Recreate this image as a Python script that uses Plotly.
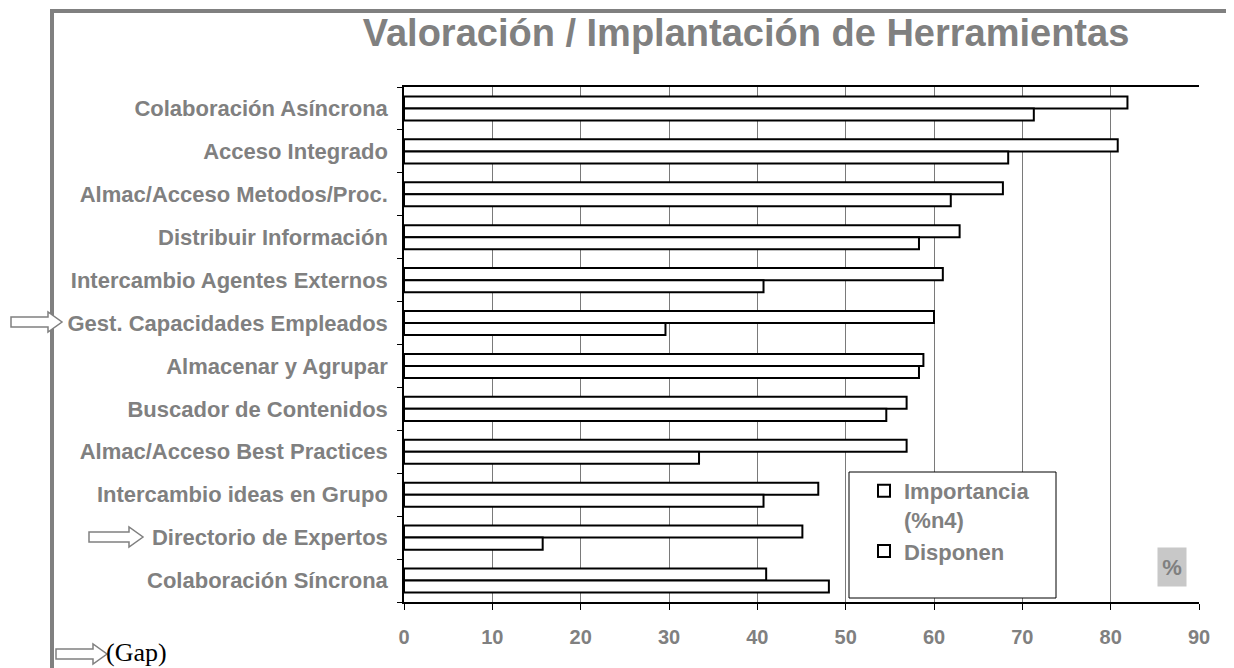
import plotly.graph_objects as go

categories = [
    "Colaboración Asíncrona",
    "Acceso Integrado",
    "Almac/Acceso Metodos/Proc.",
    "Distribuir Información",
    "Intercambio Agentes Externos",
    "Gest. Capacidades Empleados",
    "Almacenar y Agrupar",
    "Buscador de Contenidos",
    "Almac/Acceso Best Practices",
    "Intercambio ideas en Grupo",
    "Directorio de Expertos",
    "Colaboración Síncrona",
]
importancia = [81.9, 80.8, 67.8, 62.9, 61.0, 60.0, 58.8, 56.9, 56.9, 46.9, 45.1, 41.0]
disponen = [71.3, 68.4, 61.9, 58.3, 40.7, 29.6, 58.3, 54.6, 33.4, 40.7, 15.7, 48.1]
x_ticks = [0, 10, 20, 30, 40, 50, 60, 70, 80, 90]

# the page body adds an 8px margin; the figure is sized and laid out in screen pixels minus it
OFF = 8
SW, SH = 1234, 668
W, H = SW - OFF, SH - OFF
PL, PR, PT, PB = 404, 1199, 87, 602   # plot area in screen pixels
ML, MR, MT, MB = PL - OFF, SW - PR, PT - OFF, SH - PB
PW, PH = W - ML - MR, H - MT - MB

def px(x):
    return (x - PL) / PW

def py(y):
    return (PB - y) / PH

GRAY = "#808080"
FONT = "Liberation Sans, Arial, sans-serif"

fig = go.Figure()
fig.add_trace(go.Bar(
    y=categories, x=importancia, orientation="h", name="<b>Importancia<br>(%n4)</b>",
    marker=dict(color="white", line=dict(color="black", width=2)),
    legendgroup="a",
))
fig.add_trace(go.Bar(
    y=categories, x=disponen, orientation="h", name="<b>Disponen</b>",
    marker=dict(color="white", line=dict(color="black", width=2)),
    legendgroup="b",
))

shapes = []
# outer frame
shapes.append(dict(type="path", xref="paper", yref="paper",
                   path=f"M {px(52)} {py(700)} L {px(52)} {py(11)} L {px(1230)} {py(11)} L {px(1230)} {py(700)}",
                   line=dict(color=GRAY, width=4), layer="below"))
# legend box
shapes.append(dict(type="rect", xref="paper", yref="paper",
                   x0=px(849), x1=px(1056), y0=py(598), y1=py(472),
                   line=dict(color="black", width=1), fillcolor="white", layer="above"))

def arrow(x0, x1, yc, sh=5, hh=10, hl=14):
    xs = x1 - hl
    pts = [(x0, yc - sh), (xs, yc - sh), (xs, yc - hh), (x1, yc), (xs, yc + hh), (xs, yc + sh), (x0, yc + sh)]
    p = "M " + " L ".join(f"{px(a)} {py(b)}" for a, b in pts) + " Z"
    return dict(type="path", xref="paper", yref="paper", path=p,
                line=dict(color=GRAY, width=1.5), fillcolor="white", layer="above")

shapes.append(arrow(11, 62, 322))
shapes.append(arrow(89, 143, 537))
shapes.append(arrow(56, 107, 654))

annotations = [
    dict(text="<b>%</b>", xref="paper", yref="paper", x=px(1172), y=py(567), showarrow=False,
         font=dict(family=FONT, size=22, color=GRAY), bgcolor="#c8c8c8",
         width=26, height=36, xanchor="center", yanchor="middle"),
    dict(text="(Gap)", xref="paper", yref="paper", x=px(105), y=py(668), showarrow=False,
         font=dict(family="Liberation Serif, Times New Roman, serif", size=26, color="black"),
         xanchor="left", yanchor="bottom", borderpad=0),
]

fig.update_layout(
    width=W, height=H,
    margin=dict(l=ML, r=MR, t=MT, b=MB, pad=0),
    paper_bgcolor="white", plot_bgcolor="white",
    barmode="group", bargap=0.44, bargroupgap=0,
    title=dict(text="<b>Valoración / Implantación de Herramientas</b>",
               x=(746 - OFF) / W, xanchor="center", y=1 - (33 - OFF) / H, yanchor="middle",
               font=dict(family=FONT, size=38, color=GRAY)),
    xaxis=dict(range=[0, 90], tickvals=x_ticks, ticktext=[f"<b>{v}</b>" for v in x_ticks],
               showgrid=True, gridcolor="#7a7a7a", gridwidth=1,
               showline=True, linecolor="black", linewidth=1.5, mirror=True,
               ticks="outside", ticklen=6, tickcolor="black", ticklabelstandoff=10,
               tickfont=dict(family=FONT, size=20, color=GRAY), zeroline=False),
    yaxis=dict(autorange="reversed", type="category",
               tickvals=categories, ticktext=[f"<b>{c}</b>" for c in categories],
               showgrid=False, showline=True, linecolor="black", linewidth=1.5,
               ticks="outside", ticklen=5, tickcolor="black", tickson="boundaries",
               ticklabelstandoff=10,
               tickfont=dict(family=FONT, size=22, color=GRAY)),
    showlegend=True,
    legend=dict(x=px(864), y=py(470), xanchor="left", yanchor="top",
                bgcolor="rgba(0,0,0,0)", borderwidth=0, valign="top",
                traceorder="grouped", tracegroupgap=0,
                font=dict(family=FONT, size=22, color=GRAY)),
    shapes=shapes,
    annotations=annotations,
)

fig.write_html("out.html")
